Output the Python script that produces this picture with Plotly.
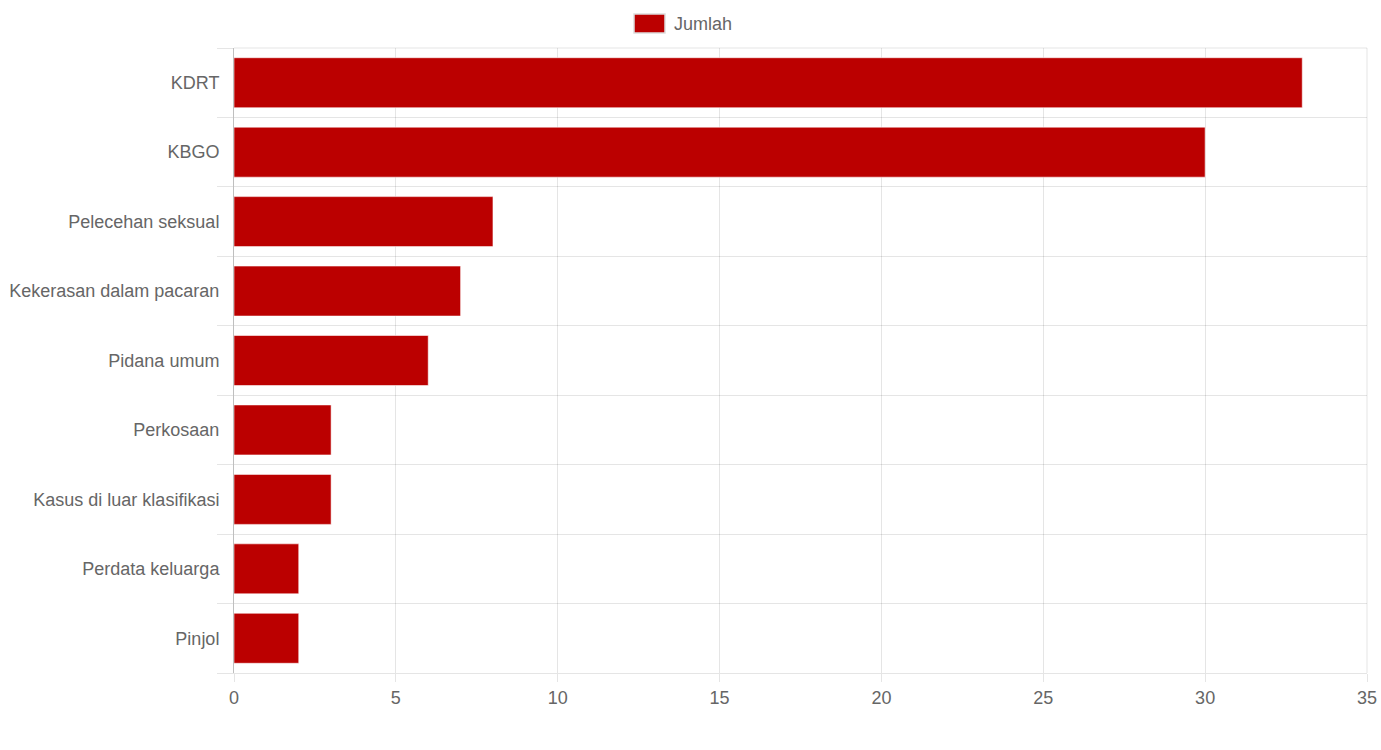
import plotly.graph_objects as go

categories = ["KDRT", "KBGO", "Pelecehan seksual", "Kekerasan dalam pacaran",
              "Pidana umum", "Perkosaan", "Kasus di luar klasifikasi",
              "Perdata keluarga", "Pinjol"]
values = [33, 30, 8, 7, 6, 3, 3, 2, 2]
series_name = "Jumlah"
x_ticks = [0, 5, 10, 15, 20, 25, 30, 35]

positions = list(range(len(categories)))
RED = "#BB0000"
GRID = "rgba(0,0,0,0.1)"
FONT = "Liberation Sans, Arial, Helvetica, sans-serif"
FS = 18

fig = go.Figure()
fig.add_trace(go.Bar(
    x=values, y=positions, orientation="h", name=series_name,
    marker=dict(color=RED, line=dict(color="rgba(255,255,255,0.55)", width=1)),
    showlegend=False,
))

fig.update_layout(
    width=1381, height=750,
    margin=dict(l=234, r=14, t=48, b=77, autoexpand=False),
    paper_bgcolor="white", plot_bgcolor="white",
    bargap=0.28,
    font=dict(family=FONT, size=FS, color="#666"),
    xaxis=dict(
        range=[0, 35], tickvals=x_ticks, showgrid=True, gridcolor=GRID, gridwidth=1,
        ticks="outside", ticklen=8, tickcolor=GRID, zeroline=False, automargin=False,
        showline=True, linecolor=GRID, linewidth=1, mirror=False,
        tickfont=dict(size=FS, color="#666"), fixedrange=True,
    ),
    yaxis=dict(
        range=[len(categories) - 0.5, -0.5], tickvals=positions, ticktext=categories,
        showgrid=False, ticks="outside", ticklen=10, tickcolor="rgba(0,0,0,0)",
        zeroline=False, showline=True, linecolor="rgba(0,0,0,0.25)", linewidth=1,
        automargin=False,
        minor=dict(tick0=0.5, dtick=1, showgrid=True, gridcolor=GRID, ticks="outside",
                   ticklen=16, tickcolor=GRID),
        tickfont=dict(size=FS, color="#666"), fixedrange=True,
    ),
    shapes=[
        dict(type="rect", xref="paper", yref="paper",
             x0=(634 - 234) / 1133, x1=(665 - 234) / 1133,
             y0=(673 - 33) / 625, y1=(673 - 14) / 625,
             fillcolor=RED, line=dict(color="#dddddd", width=1.5)),
        dict(type="line", xref="paper", yref="paper", x0=0, x1=1, y0=1, y1=1,
             line=dict(color=GRID, width=1)),
        dict(type="line", xref="paper", yref="paper", x0=1, x1=1, y0=0, y1=1,
             line=dict(color=GRID, width=1)),
    ],
    annotations=[
        dict(text=series_name, xref="paper", yref="paper",
             x=(672 - 234) / 1133, y=(673 - 23.5) / 625, xanchor="left", yanchor="middle",
             showarrow=False, font=dict(family=FONT, size=FS, color="#666")),
    ],
)

fig.write_html("out.html")
